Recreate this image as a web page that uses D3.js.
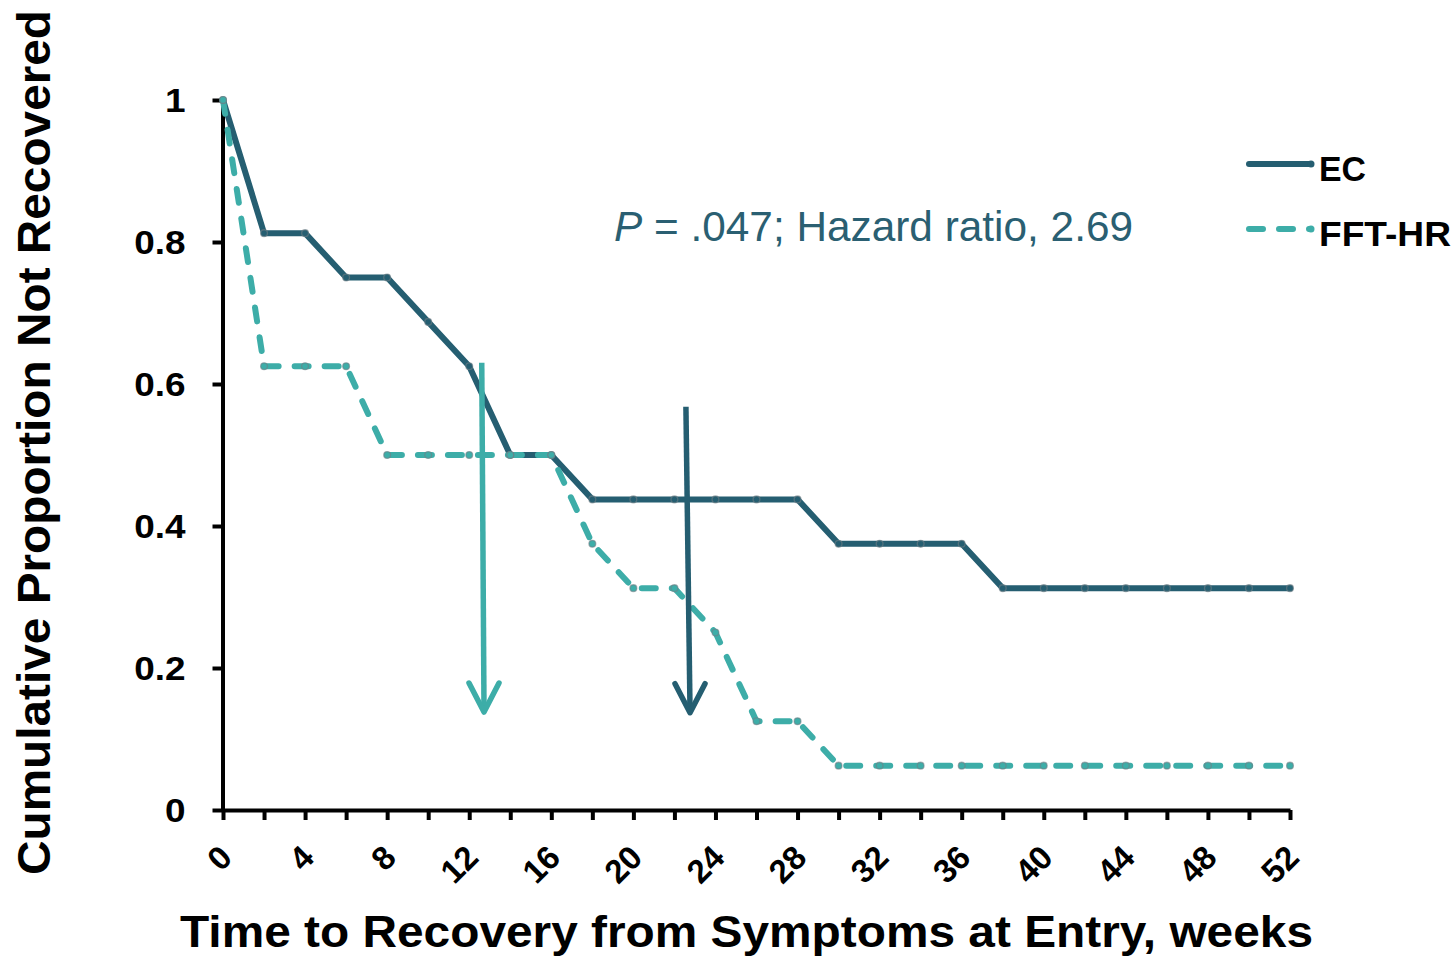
<!DOCTYPE html>
<html>
<head>
<meta charset="utf-8">
<script src="https://cdn.jsdelivr.net/npm/d3@7/dist/d3.min.js"></script>
<style>
  html, body { margin: 0; padding: 0; background: #fff; }
  svg { display: block; font-family: "Liberation Sans", Arial, sans-serif; }
</style>
</head>
<body>
<svg id="chart" width="1456" height="956"></svg>
<script>
// Kaplan–Meier style curves, read every 2 weeks
const weeks = d3.range(0, 53, 2);
const ecValues = [1, 0.8125, 0.8125, 0.75, 0.75, 0.6875, 0.625, 0.5, 0.5, 0.4375,
  0.4375, 0.4375, 0.4375, 0.4375, 0.4375, 0.375, 0.375, 0.375, 0.375, 0.3125,
  0.3125, 0.3125, 0.3125, 0.3125, 0.3125, 0.3125, 0.3125];
const fftValues = [1, 0.625, 0.625, 0.625, 0.5, 0.5, 0.5, 0.5, 0.5, 0.375,
  0.3125, 0.3125, 0.25, 0.125, 0.125, 0.0625, 0.0625, 0.0625, 0.0625, 0.0625,
  0.0625, 0.0625, 0.0625, 0.0625, 0.0625, 0.0625, 0.0625];
const seriesNames = ["EC", "FFT-HR"];
const yTicks = [0, 0.2, 0.4, 0.6, 0.8, 1];
const yTickLabels = ["0", "0.2", "0.4", "0.6", "0.8", "1"];
const xTicks = d3.range(0, 53, 2);
const xLabelTicks = d3.range(0, 53, 4);
// Median recovery markers (weeks, proportion)
const medianArrows = [
  { series: "FFT-HR", x0: 12.61, y0: 0.63, x1: 12.72, y1: 0.138 },
  { series: "EC", x0: 22.56, y0: 0.568, x1: 22.76, y1: 0.137 }
];
const annotation = { pre: "P", rest: " = .047; Hazard ratio, 2.69" };
const xTitle = "Time to Recovery from Symptoms at Entry, weeks";
const yTitle = "Cumulative Proportion Not Recovered";

const colors = { "EC": "#255E71", "FFT-HR": "#3DADA8" };

const svg = d3.select("#chart");
const x = d3.scaleLinear().domain([0, 52]).range([223, 1290]);
const y = d3.scaleLinear().domain([0, 1]).range([810, 100]);

// Axes
const yAxis = svg.append("g")
  .attr("transform", `translate(${x(0) - 0.5},0)`)
  .call(d3.axisLeft(y).tickValues(yTicks).tickSize(10).tickSizeOuter(0)
    .tickFormat((d, i) => yTickLabels[i]));
yAxis.select(".domain").attr("stroke", "#000").attr("stroke-width", 4);
yAxis.selectAll(".tick line").attr("stroke", "#000").attr("stroke-width", 4);
yAxis.selectAll(".tick text")
  .attr("x", 0).attr("dy", "0.36em")
  .attr("transform", "translate(-37,0) scale(1.12,1)")
  .attr("font-size", 33).attr("font-weight", "bold").attr("fill", "#000")
  .attr("font-family", "Liberation Sans, Arial, sans-serif");

const xAxis = svg.append("g")
  .attr("transform", `translate(0,${y(0)})`)
  .call(d3.axisBottom(x).tickValues(xTicks).tickSize(10).tickSizeOuter(0)
    .tickFormat(d => (xLabelTicks.includes(d) ? String(d) : "")));
xAxis.select(".domain").attr("stroke", "#000").attr("stroke-width", 4);
xAxis.selectAll(".tick line").attr("stroke", "#000").attr("stroke-width", 4);
xAxis.selectAll(".tick text")
  .attr("x", 0).attr("y", 0).attr("dy", "0.36em")
  .attr("text-anchor", "end")
  .attr("transform", "translate(2,41) rotate(-45)")
  .attr("font-size", 33).attr("font-weight", "bold").attr("fill", "#000")
  .attr("font-family", "Liberation Sans, Arial, sans-serif");

// Curves
const line = d3.line().x(d => x(d[0])).y(d => y(d[1]));
const ecData = weeks.map((w, i) => [w, ecValues[i]]);
const fftData = weeks.map((w, i) => [w, fftValues[i]]);

svg.append("path").datum(ecData)
  .attr("d", line).attr("fill", "none")
  .attr("stroke", colors["EC"]).attr("stroke-width", 6)
  .attr("stroke-linejoin", "round").attr("stroke-linecap", "round");
svg.append("path").datum(fftData)
  .attr("d", line).attr("fill", "none")
  .attr("stroke", colors["FFT-HR"]).attr("stroke-width", 6)
  .attr("stroke-dasharray", "14 16")
  .attr("stroke-linejoin", "round").attr("stroke-linecap", "round");

// Point markers
[[ecData, "EC"], [fftData, "FFT-HR"]].forEach(([data, name]) => {
  svg.append("g").selectAll("circle").data(data).join("circle")
    .attr("cx", d => x(d[0])).attr("cy", d => y(d[1])).attr("r", 3.4)
    .attr("fill", colors[name]).attr("stroke", "#6f7f86")
    .attr("stroke-opacity", 0.6).attr("stroke-width", 1.3);
});

// Median arrows
medianArrows.forEach(a => {
  const g = svg.append("g").attr("stroke", colors[a.series]).attr("fill", "none")
    .attr("stroke-width", 5.5).attr("stroke-linecap", "round").attr("stroke-linejoin", "round");
  g.append("line")
    .attr("x1", x(a.x0)).attr("y1", y(a.y0))
    .attr("x2", x(a.x1)).attr("y2", y(a.y1) - 3)
    .attr("stroke-linecap", "butt");
  const tx = x(a.x1), ty = y(a.y1);
  g.append("path")
    .attr("d", `M${tx - 15},${ty - 29} L${tx},${ty} L${tx + 15},${ty - 29}`);
});

// Statistics annotation
const ann = svg.append("text")
  .attr("x", 614).attr("y", 241)
  .attr("font-size", 42).attr("fill", "#2A5F72")
  .attr("textLength", 519).attr("lengthAdjust", "spacingAndGlyphs");
ann.append("tspan").attr("font-style", "italic").text(annotation.pre);
ann.append("tspan").text(annotation.rest);

// Legend
const legendRows = [
  { name: seriesNames[0], y: 164, dash: null },
  { name: seriesNames[1], y: 229, dash: "14 16" }
];
legendRows.forEach(r => {
  svg.append("line")
    .attr("x1", 1249).attr("x2", 1310).attr("y1", r.y).attr("y2", r.y)
    .attr("stroke", colors[r.name]).attr("stroke-width", 6)
    .attr("stroke-linecap", "round")
    .attr("stroke-dasharray", r.dash);
  svg.append("circle").attr("cx", 1311).attr("cy", r.y).attr("r", 3.5)
    .attr("fill", colors[r.name]);
  svg.append("text")
    .attr("x", 1319).attr("y", r.y + 17)
    .attr("font-size", 35).attr("font-weight", "bold").attr("fill", "#000")
    .attr("textLength", r.name === "EC" ? 47 : 132)
    .attr("lengthAdjust", "spacingAndGlyphs")
    .text(r.name);
});

// Axis titles
svg.append("text")
  .attr("x", 180).attr("y", 947)
  .attr("font-size", 44).attr("font-weight", "bold").attr("fill", "#000")
  .attr("textLength", 1133).attr("lengthAdjust", "spacingAndGlyphs")
  .text(xTitle);

svg.append("text")
  .attr("transform", "translate(50,442.5) rotate(-90)")
  .attr("text-anchor", "middle")
  .attr("font-size", 46).attr("font-weight", "bold").attr("fill", "#000")
  .attr("textLength", 865).attr("lengthAdjust", "spacingAndGlyphs")
  .text(yTitle);
</script>
</body>
</html>
